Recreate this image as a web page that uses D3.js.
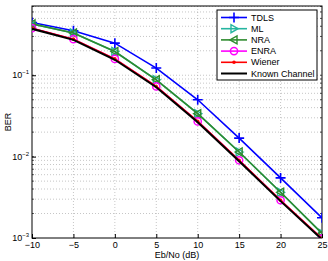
<!DOCTYPE html>
<html>
<head>
<meta charset="utf-8">
<script src="https://cdn.jsdelivr.net/npm/d3@7"></script>
<style>
  body { margin: 0; background: #fff; }
  text { font-family: "Liberation Sans", Arial, sans-serif; fill: #000; }
</style>
</head>
<body>
<div class="chart"></div>
<script>
// data
const snr = [-10, -5, 0, 5, 10, 15, 20, 25];
const tdls = [0.445, 0.352, 0.248, 0.1226, 0.050, 0.0169, 0.00548, 0.00177];
const ml = [0.428, 0.330, 0.196, 0.088, 0.0337, 0.0114, 0.00365, 0.00114];
const nra = [0.428, 0.330, 0.196, 0.088, 0.0337, 0.0114, 0.00365, 0.00114];
const enra = [0.379, 0.278, 0.159, 0.0729, 0.0271, 0.00902, 0.00291, 0.00098];
const wiener = [0.379, 0.278, 0.159, 0.0729, 0.0271, 0.00902, 0.00291, 0.00098];
const known = [0.372, 0.272, 0.155, 0.0712, 0.0264, 0.00880, 0.00284, 0.00096];
const xTicks = [-10, -5, 0, 5, 10, 15, 20, 25];
const yTicks = [1e-3, 1e-2, 1e-1];

const series = [
  {name: "TDLS", values: tdls, color: "#0000ff", marker: "plus"},
  {name: "ML", values: ml, color: "#26b5a0", marker: "triRight"},
  {name: "NRA", values: nra, color: "#2e8b2e", marker: "triLeft"},
  {name: "ENRA", values: enra, color: "#ff00ff", marker: "circle"},
  {name: "Wiener", values: wiener, color: "#ff0000", marker: "dot"},
  {name: "Known Channel", values: known, color: "#000000", marker: "none"}
];

const margin = {top: 6, left: 32, right: 6, bottom: 23};
const W = 328, H = 261;
const width = W - margin.left - margin.right;
const height = H - margin.top - margin.bottom;

const root = d3.select(".chart").append("svg")
  .attr("width", W)
  .attr("height", H);

const svg = root.append("g")
  .attr("transform", `translate(${margin.left},${margin.top})`);

const x = d3.scaleLinear().domain([-10, 25]).range([0, width]);
const y = d3.scaleLog().domain([1e-3, 0.71]).range([height, 0]);

svg.append("clipPath").attr("id", "clip")
  .append("rect").attr("width", width).attr("height", height);

// grid
const grid = svg.append("g").attr("stroke", "#a0a0a0").attr("stroke-width", 0.6)
  .attr("stroke-dasharray", "1,2");
xTicks.slice(1, -1).forEach(t => {
  grid.append("line").attr("x1", x(t)).attr("x2", x(t)).attr("y1", 0).attr("y2", height);
});
const minor = [];
for (let e = -3; e <= -1; e++) {
  for (let m = 1; m <= 9; m++) {
    const v = m * Math.pow(10, e);
    if (v > 1e-3 && v < 0.71) minor.push(v);
  }
}
minor.forEach(v => {
  grid.append("line").attr("x1", 0).attr("x2", width).attr("y1", y(v)).attr("y2", y(v));
});

// axes
const xAxis = d3.axisBottom(x).tickValues(xTicks).tickSize(-4).tickPadding(4)
  .tickFormat(d => d < 0 ? "\u2212" + Math.abs(d) : d);
svg.append("g").attr("transform", `translate(0,${height})`).call(xAxis)
  .call(g => g.select(".domain").remove())
  .selectAll("text").attr("font-size", 9);

const yAxis = d3.axisLeft(y).tickValues(yTicks).tickSize(-4).tickFormat("");
svg.append("g").call(yAxis).call(g => g.select(".domain").remove());

yTicks.forEach(t => {
  const e = Math.round(Math.log10(t));
  const lab = svg.append("text").attr("x", -3).attr("y", y(t) + 3)
    .attr("text-anchor", "end").attr("font-size", 9);
  lab.append("tspan").text("10");
  lab.append("tspan").attr("dy", -4).attr("font-size", 6).text("\u2212" + Math.abs(e));
});

// box
svg.append("rect").attr("width", width).attr("height", height)
  .attr("fill", "none").attr("stroke", "#000").attr("stroke-width", 1);

// minor ticks on right/left
minor.forEach(v => {
  svg.append("line").attr("x1", 0).attr("x2", 2).attr("y1", y(v)).attr("y2", y(v)).attr("stroke", "#000").attr("stroke-width", 0.6);
  svg.append("line").attr("x1", width).attr("x2", width - 2).attr("y1", y(v)).attr("y2", y(v)).attr("stroke", "#000").attr("stroke-width", 0.6);
});

// labels
root.append("text").attr("x", margin.left + width / 2).attr("y", 258)
  .attr("text-anchor", "middle").attr("font-size", 9).text("Eb/No (dB)");
root.append("text").attr("transform", `translate(11,${margin.top + height / 2}) rotate(-90)`)
  .attr("text-anchor", "middle").attr("font-size", 9).text("BER");

function drawMarker(g, type, cx, cy, color) {
  if (type === "plus") {
    g.append("path").attr("d", `M${cx - 5},${cy}H${cx + 5}M${cx},${cy - 5}V${cy + 5}`)
      .attr("stroke", color).attr("stroke-width", 1.6).attr("fill", "none");
  } else if (type === "triRight") {
    g.append("path").attr("d", `M${cx + 4},${cy}L${cx - 3},${cy - 4}L${cx - 3},${cy + 4}Z`)
      .attr("stroke", color).attr("stroke-width", 1.4).attr("fill", "none");
  } else if (type === "triLeft") {
    g.append("path").attr("d", `M${cx - 4},${cy}L${cx + 3},${cy - 4}L${cx + 3},${cy + 4}Z`)
      .attr("stroke", color).attr("stroke-width", 1.4).attr("fill", "none");
  } else if (type === "circle") {
    g.append("circle").attr("cx", cx).attr("cy", cy).attr("r", 3.6)
      .attr("stroke", color).attr("stroke-width", 1.5).attr("fill", "none");
  } else if (type === "dot") {
    g.append("circle").attr("cx", cx).attr("cy", cy).attr("r", 1.8).attr("fill", color);
  }
}

const line = d3.line().x((d, i) => x(snr[i])).y(d => y(d));
const plot = svg.append("g").attr("clip-path", "url(#clip)");

series.forEach(s => {
  plot.append("path").datum(s.values).attr("d", line)
    .attr("fill", "none").attr("stroke", s.color).attr("stroke-width", s.name === "Known Channel" ? 2 : 1.6);
  s.values.forEach((v, i) => drawMarker(plot, s.marker, x(snr[i]), y(v), s.color));
});

// legend
const lg = root.append("g").attr("transform", "translate(217,10)");
lg.append("rect").attr("width", 100).attr("height", 70)
  .attr("fill", "#fff").attr("stroke", "#000").attr("stroke-width", 1);
series.forEach((s, i) => {
  const ly = 7.5 + i * 11.2;
  lg.append("line").attr("x1", 4).attr("x2", 30).attr("y1", ly).attr("y2", ly)
    .attr("stroke", s.color).attr("stroke-width", s.name === "Known Channel" ? 2 : 1.6);
  drawMarker(lg, s.marker, 17, ly, s.color);
  lg.append("text").attr("x", 34).attr("y", ly + 3).attr("font-size", 9).text(s.name);
});
</script>
</body>
</html>
